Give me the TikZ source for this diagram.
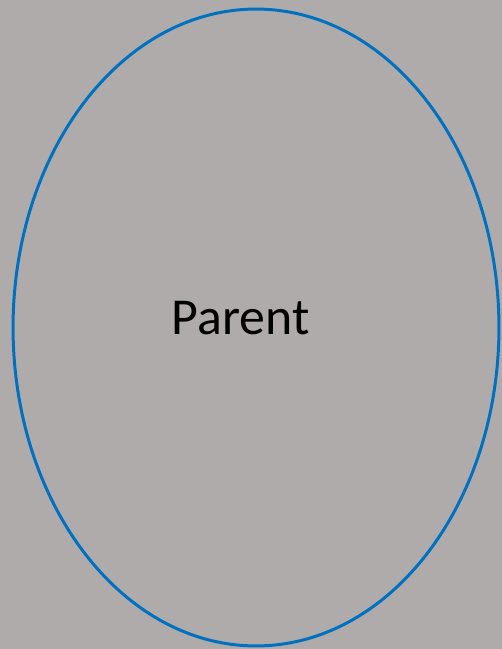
\documentclass[tikz,border=0pt]{standalone}
\usepackage{fontspec}
\setmainfont{Carlito}
\usetikzlibrary{positioning, shapes.geometric}
\definecolor{bggray}{HTML}{AFABAB}
\definecolor{ringblue}{HTML}{0070C0}

\begin{document}
\begin{tikzpicture}[
    x=0.02cm, y=-0.02cm,
    ring/.style={ellipse, draw=ringblue, line width=1.7pt, minimum width=9.72cm, minimum height=12.74cm, inner sep=0pt},
    label/.style={font=\fontsize{29.5}{35}\selectfont, text=black, anchor=base}
  ]
    % background
    \fill[bggray] (0, 0) rectangle (502, 649);
    \useasboundingbox (0, 0) rectangle (502, 649);

    \node[ring] (parent) at (256, 327.5) {};
    \node[label] (parenttext) at (240.5, 334.5) {Parent};
  \end{tikzpicture}
\end{document}
